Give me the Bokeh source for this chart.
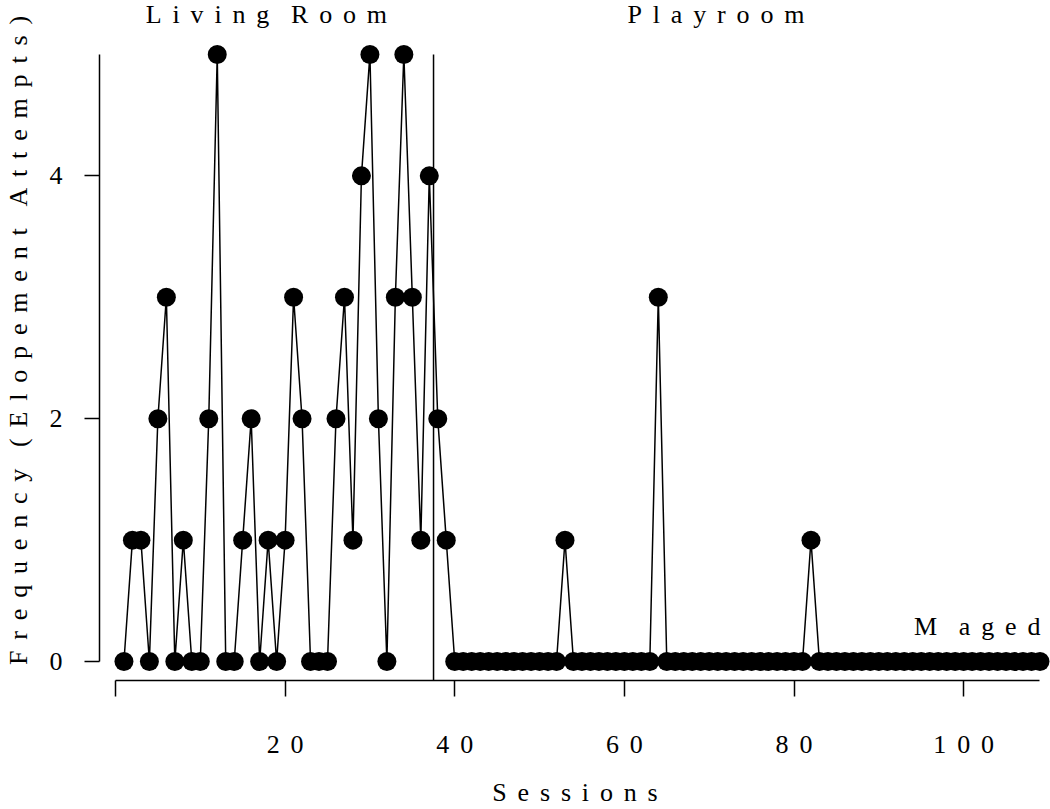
from bokeh.plotting import figure
from bokeh.models import Range1d, FixedTicker, Label
from bokeh.embed import file_html
from bokeh.resources import INLINE

# ---- data ----
sessions = list(range(1, 110))
attempts = [
    0, 1, 1, 0, 2, 3, 0, 1, 0, 0,
    2, 5, 0, 0, 1, 2, 0, 1, 0, 1,
    3, 2, 0, 0, 0, 2, 3, 1, 4, 5,
    2, 0, 3, 5, 3, 1, 4, 2, 1,
    0, 0, 0, 0, 0, 0, 0, 0, 0, 0, 0, 0, 0,
    1,
    0, 0, 0, 0, 0, 0, 0, 0, 0, 0,
    3,
    0, 0, 0, 0, 0, 0, 0, 0, 0, 0, 0, 0, 0, 0, 0, 0, 0,
    1,
    0, 0, 0, 0, 0, 0, 0, 0, 0, 0, 0, 0, 0, 0, 0, 0, 0, 0, 0, 0, 0, 0, 0, 0, 0, 0, 0,
]
phase_change = 37.5
x_ticks = [0, 20, 40, 60, 80, 100]
x_tick_labels = ["", "20", "40", "60", "80", "100"]
y_ticks = [0, 2, 4]
phase_names = ["Living Room", "Playroom"]
phase_name_x = [17.8, 70.8]
subject = "Maged"
x_title = "Sessions"
y_title = "Frequency (Elopement Attempts)"

SP = "\u2005\u2006"


def spaced(s):
    words = s.split(" ")
    return (SP * 2).join(SP.join(list(w)) for w in words)


FONT = "Liberation Serif"
FS = "26px"

p = figure(width=1050, height=809, output_backend="svg", toolbar_location=None,
           x_range=Range1d(-1.882, 110.24), y_range=Range1d(-0.156, 5.444),
           min_border_left=97, min_border_right=0, min_border_top=0, min_border_bottom=128)
p.outline_line_color = None
p.grid.visible = False
p.background_fill_color = "white"
p.border_fill_color = "white"

# x axis
xa = p.xaxis[0]
xa.ticker = FixedTicker(ticks=x_ticks)
xa.major_label_overrides = {t: spaced(l) for t, l in zip(x_ticks, x_tick_labels)}
xa.bounds = (0, 109)
xa.major_tick_out = 16
xa.major_tick_in = 0
xa.minor_tick_out = 0
xa.minor_tick_in = 0
xa.axis_line_width = 1.5
xa.major_tick_line_width = 1.5
xa.axis_line_color = "black"
xa.major_tick_line_color = "black"
xa.major_label_text_font = FONT
xa.major_label_text_font_size = FS
xa.major_label_text_color = "black"
xa.major_label_standoff = 33
xa.axis_label = spaced(x_title)
xa.axis_label_text_font = FONT
xa.axis_label_text_font_size = FS
xa.axis_label_text_font_style = "normal"
xa.axis_label_text_color = "black"
xa.axis_label_standoff = 16

# y axis
ya = p.yaxis[0]
ya.ticker = FixedTicker(ticks=y_ticks)
ya.bounds = (0, 5)
ya.major_tick_out = 15
ya.major_tick_in = 0
ya.minor_tick_out = 0
ya.minor_tick_in = 0
ya.axis_line_width = 1.5
ya.major_tick_line_width = 1.5
ya.axis_line_color = "black"
ya.major_tick_line_color = "black"
ya.major_label_text_font = FONT
ya.major_label_text_font_size = FS
ya.major_label_text_color = "black"
ya.major_label_standoff = 22
ya.axis_label = spaced(y_title)
ya.axis_label_text_font = FONT
ya.axis_label_text_font_size = FS
ya.axis_label_text_font_style = "normal"
ya.axis_label_text_color = "black"
ya.axis_label_standoff = 14

# data
p.segment(x0=[phase_change], y0=[-0.2], x1=[phase_change], y1=[5],
          line_color="black", line_width=1.5)
p.line(sessions, attempts, line_color="black", line_width=1.5)
p.scatter(sessions, attempts, size=19, fill_color="black", line_color=None)

# labels
for name, nx in zip(phase_names, phase_name_x):
    p.add_layout(Label(x=nx, y=5.33, text=spaced(name), text_font=FONT, text_font_size=FS,
                       text_align="center", text_baseline="middle", text_color="black"))
p.add_layout(Label(x=101.6, y=0.29, text=spaced(subject).replace(SP, SP * 2, 1), text_font=FONT,
                   text_font_size=FS, text_align="center", text_baseline="middle", text_color="black"))

open("out.html", "w").write(file_html(p, INLINE))
